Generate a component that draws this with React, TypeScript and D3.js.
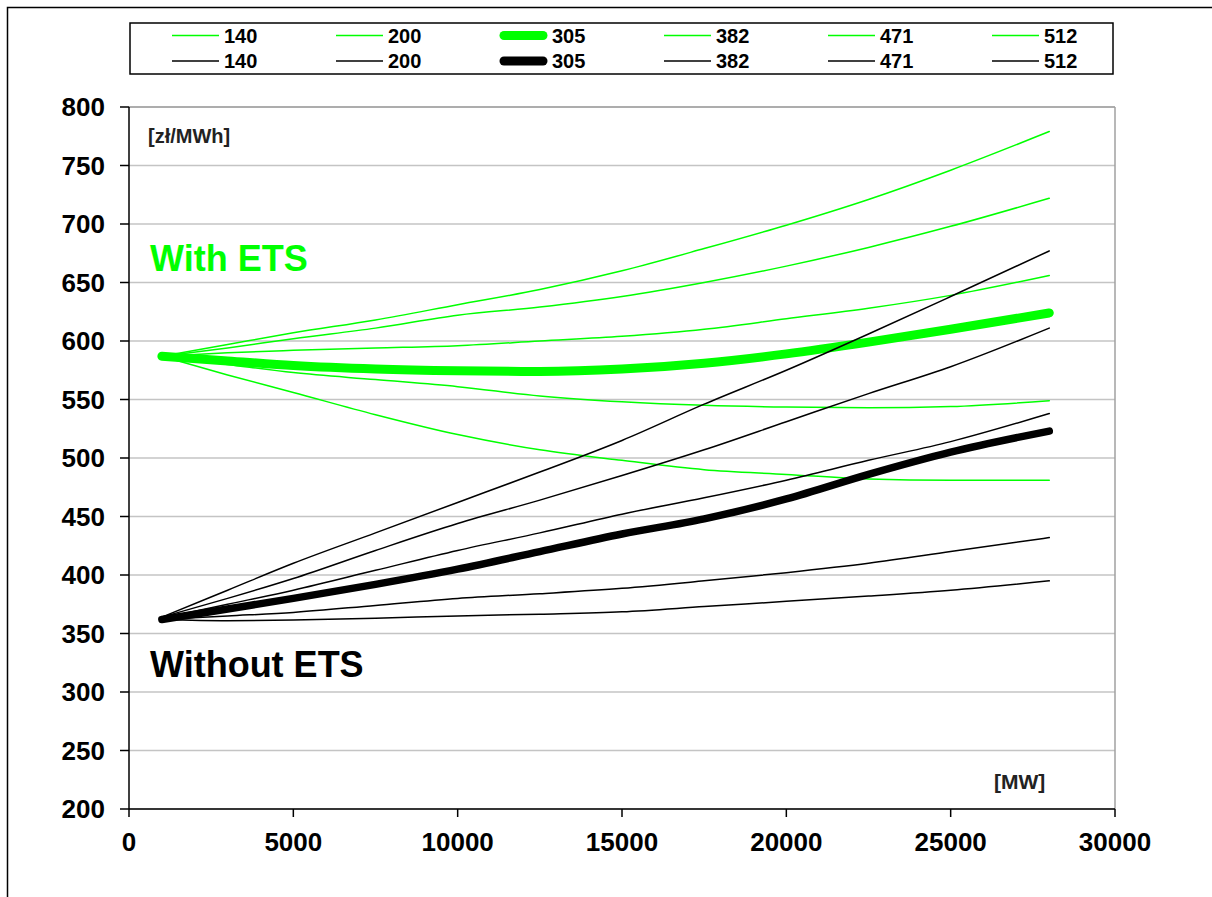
import React from "react";
import * as d3 from "d3";

const capacities = [1000, 3000, 5000, 7500, 10000, 12500, 15000, 17500, 20000, 22500, 25000, 28000];
const seriesNames = ["140", "200", "305", "382", "471", "512"];

const withEts140 = [587, 571, 556, 537, 520, 507, 498, 490, 486, 482, 481, 481];
const withEts200 = [587, 580, 573, 567, 561, 553, 548, 545, 543.5, 543, 544, 549];
const withEts305 = [587, 583, 579, 576, 574.5, 574, 576, 581, 589, 599, 610, 624];
const withEts382 = [587, 590, 592, 594, 596, 600, 604, 610, 619, 628, 639, 656];
const withEts471 = [587, 594, 602, 611, 622, 629, 638, 650, 664, 680, 698, 722];
const withEts512 = [587, 597, 607, 618, 631, 644, 660, 679, 699, 721, 746, 779];

const noEts140 = [362, 361, 361.5, 363, 365, 366.5, 368.5, 373, 377.5, 382, 387, 395];
const noEts200 = [362, 365, 368, 374, 380, 384, 388.6, 395, 402, 410, 420, 432];
const noEts305 = [362, 371, 380, 392, 405, 420, 435, 448, 465, 486, 505, 523];
const noEts382 = [363, 375, 387, 404, 421, 436, 452, 466, 481, 498, 514, 538];
const noEts471 = [364, 380, 397, 421, 444, 464, 485, 507, 531, 555, 578, 611];
const noEts512 = [364, 387, 410, 436, 462, 488, 515, 546, 575, 606, 638, 677];

const xTicks = [0, 5000, 10000, 15000, 20000, 25000, 30000];
const yTicks = [200, 250, 300, 350, 400, 450, 500, 550, 600, 650, 700, 750, 800];

const GREEN = "#00ff00";
const FONT = "'Liberation Sans', Arial, sans-serif";

const withEts = [withEts140, withEts200, withEts305, withEts382, withEts471, withEts512];
const noEts = [noEts140, noEts200, noEts305, noEts382, noEts471, noEts512];

export default function App() {
  const left = 129, right = 1115, top = 107, bottom = 809;
  const x = d3.scaleLinear().domain([0, 30000]).range([left, right]);
  const y = d3.scaleLinear().domain([200, 800]).range([bottom, top]);
  const line = d3
    .line<number>()
    .x((_, i) => x(capacities[i]))
    .y((v) => y(v))
    .curve(d3.curveMonotoneX);

  const renderSeries = (arr: number[][], color: string, thick: number) =>
    arr.map((vals, i) => (
      <path
        key={color + i}
        d={line(vals) || ""}
        fill="none"
        stroke={color}
        strokeWidth={seriesNames[i] === "305" ? thick : 1.5}
        strokeLinecap="round"
        strokeLinejoin="round"
      />
    ));

  const legendX0 = 172, legendStep = 164, legendLen = 47;

  return (
    <svg
      width={1212}
      height={897}
      style={{ position: "absolute", left: 0, top: 0, background: "#fff" }}
      fontFamily={FONT}
    >
      <rect x={0} y={0} width={1212} height={897} fill="#fff" />
      <rect x={7.5} y={7.5} width={1230} height={920} fill="none" stroke="#000" strokeWidth={1.5} />

      {/* legend */}
      <rect x={130} y={23} width={983} height={51} fill="#fff" stroke="#000" strokeWidth={1.5} />
      {seriesNames.map((name, i) => {
        const lx = legendX0 + i * legendStep;
        const is305 = name === "305";
        return (
          <g key={"lg" + i}>
            <line
              x1={is305 ? lx + 4 : lx}
              x2={is305 ? lx + legendLen - 4 : lx + legendLen}
              y1={35.5}
              y2={35.5}
              stroke={GREEN}
              strokeWidth={is305 ? 9 : 1.4}
              strokeLinecap={is305 ? "round" : "butt"}
            />
            <text x={lx + legendLen + 5} y={42.5} fontSize={20} fontWeight="bold" fill="#000">
              {name}
            </text>
            <line
              x1={is305 ? lx + 4 : lx}
              x2={is305 ? lx + legendLen - 4 : lx + legendLen}
              y1={61}
              y2={61}
              stroke="#000"
              strokeWidth={is305 ? 9 : 1.4}
              strokeLinecap={is305 ? "round" : "butt"}
            />
            <text x={lx + legendLen + 5} y={68} fontSize={20} fontWeight="bold" fill="#000">
              {name}
            </text>
          </g>
        );
      })}

      {/* gridlines */}
      {yTicks.map((t) => (
        <line key={"g" + t} x1={left} x2={right} y1={y(t)} y2={y(t)} stroke="#c4c4c4" strokeWidth={1.5} />
      ))}
      <line x1={left} x2={right} y1={top} y2={top} stroke="#a0a0a0" strokeWidth={1.5} />
      <line x1={right} x2={right} y1={top} y2={bottom} stroke="#a0a0a0" strokeWidth={1.5} />

      {/* axes */}
      <line x1={left} x2={left} y1={top} y2={bottom} stroke="#000" strokeWidth={1.5} />
      <line x1={left} x2={right} y1={bottom} y2={bottom} stroke="#000" strokeWidth={1.5} />
      {yTicks.map((t) => (
        <g key={"yt" + t}>
          <line x1={left - 9} x2={left} y1={y(t)} y2={y(t)} stroke="#000" strokeWidth={1.5} />
          <text x={105} y={y(t) + 9} textAnchor="end" fontSize={26} fontWeight="bold" fill="#000">
            {t}
          </text>
        </g>
      ))}
      {xTicks.map((t) => (
        <g key={"xt" + t}>
          <line x1={x(t)} x2={x(t)} y1={bottom} y2={bottom + 8} stroke="#000" strokeWidth={1.5} />
          <text x={x(t)} y={851} textAnchor="middle" fontSize={26} fontWeight="bold" fill="#000">
            {t}
          </text>
        </g>
      ))}

      {/* series */}
      {renderSeries(withEts, GREEN, 9)}
      {renderSeries(noEts, "#000", 7.5)}

      {/* annotations */}
      <text x={148} y={143} fontSize={20} fontWeight="bold" fill="#222">[zł/MWh]</text>
      <text x={994} y={789} fontSize={21} fontWeight="bold" fill="#222">[MW]</text>
      <text x={150} y={271} fontSize={36} fontWeight="bold" fill={GREEN}>With ETS</text>
      <text x={150} y={677} fontSize={36} fontWeight="bold" fill="#000">Without ETS</text>
    </svg>
  );
}
